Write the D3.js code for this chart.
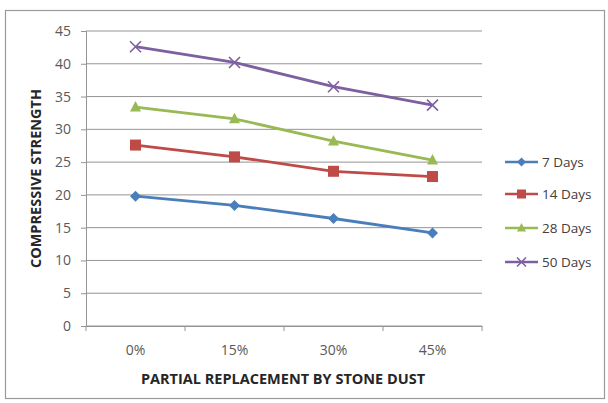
<!DOCTYPE html>
<html><head><meta charset="utf-8">
<script src="https://cdn.jsdelivr.net/npm/d3@7"></script>
<style>body{margin:0;background:#fff}svg{display:block}</style>
</head><body>
<svg id="c" width="608" height="403"></svg>
<script>
const categories = ["0%", "15%", "30%", "45%"];
const seriesNames = ["7 Days", "14 Days", "28 Days", "50 Days"];
const days7  = [19.8, 18.4, 16.4, 14.2];
const days14 = [27.6, 25.8, 23.6, 22.8];
const days28 = [33.4, 31.6, 28.2, 25.3];
const days50 = [42.6, 40.2, 36.5, 33.7];
const yTicks = [0, 5, 10, 15, 20, 25, 30, 35, 40, 45];

const colors = ["#4A7EBB", "#BE4B48", "#98B954", "#7D60A0"];
const markers = ["diamond", "square", "triangle", "x"];
const data = [days7, days14, days28, days50];

const svg = d3.select("#c");
const font = "'Liberation Sans Narrow', 'Open Sans', sans-serif";

svg.append("rect").attr("x", 5.5).attr("y", 10.5).attr("width", 599).attr("height", 388)
  .attr("fill", "#fff").attr("stroke", "#9a9a9a").attr("stroke-width", 1.2);

const L = 86, R = 482, T = 31, B = 326;
const x = d3.scaleBand().domain(categories).range([L, R]);
const y = d3.scaleLinear().domain([0, 45]).range([B, T]);

const g = svg.append("g");
// gridlines
g.selectAll(".grid").data(yTicks).join("line")
  .attr("x1", L).attr("x2", R).attr("y1", d => y(d)).attr("y2", d => y(d))
  .attr("stroke", "#949494").attr("stroke-width", 1);

// y axis
const yAxis = g.append("g").attr("transform", `translate(${L},0)`)
  .call(d3.axisLeft(y).tickValues(yTicks).tickSize(5).tickPadding(10));
yAxis.select(".domain").attr("stroke", "#949494");
yAxis.selectAll(".tick line").attr("stroke", "#949494");
yAxis.selectAll("text").attr("fill", "#595959").style("font-family", font).style("font-size", "14px");

// x axis
const xAxis = g.append("g").attr("transform", `translate(0,${B})`)
  .call(d3.axisBottom(x).tickSize(0).tickPadding(19));
xAxis.select(".domain").attr("stroke", "#949494");
xAxis.selectAll("text").attr("fill", "#595959").style("font-family", font).style("font-size", "14px");
g.selectAll(".xt").data(categories.map((c, i) => i).concat([categories.length])).join("line")
  .attr("x1", i => L + i * x.bandwidth()).attr("x2", i => L + i * x.bandwidth())
  .attr("y1", B).attr("y2", B + 5).attr("stroke", "#949494");

// markers
function drawMarker(sel, type, color, s) {
  if (type === "diamond") {
    sel.append("path").attr("d", `M0,${-s}L${s},0L0,${s}L${-s},0Z`).attr("fill", color);
  } else if (type === "square") {
    sel.append("rect").attr("x", -s).attr("y", -s).attr("width", 2 * s).attr("height", 2 * s).attr("fill", color);
  } else if (type === "triangle") {
    sel.append("path").attr("d", `M0,${-s * 1.1}L${s},${s * 0.8}L${-s},${s * 0.8}Z`).attr("fill", color);
  } else {
    sel.append("path").attr("d", `M${-s},${-s}L${s},${s}M${-s},${s}L${s},${-s}`).attr("stroke", color).attr("stroke-width", 1.6).attr("fill", "none");
  }
}

const line = d3.line().x((d, i) => x(categories[i]) + x.bandwidth() / 2).y(d => y(d));
data.forEach((vals, si) => {
  g.append("path").datum(vals).attr("d", line).attr("fill", "none")
    .attr("stroke", colors[si]).attr("stroke-width", 2.8);
  vals.forEach((v, i) => {
    const m = g.append("g").attr("transform", `translate(${x(categories[i]) + x.bandwidth() / 2},${y(v)})`);
    drawMarker(m, markers[si], colors[si], si === 3 ? 5.5 : 5.5);
  });
});

// legend
const legY = [162, 194, 228, 262];
seriesNames.forEach((n, si) => {
  const lg = svg.append("g").attr("transform", `translate(0,${legY[si]})`);
  lg.append("line").attr("x1", 505).attr("x2", 538).attr("y1", 0).attr("y2", 0)
    .attr("stroke", colors[si]).attr("stroke-width", 2.6);
  const m = lg.append("g").attr("transform", "translate(521.5,0)");
  drawMarker(m, markers[si], colors[si], 4.5);
  lg.append("text").attr("x", 542).attr("y", 0).attr("dy", "0.35em").text(n)
    .attr("fill", "#404040").style("font-family", font).style("font-size", "13.5px");
});

// axis titles
svg.append("text").attr("transform", `translate(41,${(T + B) / 2}) rotate(-90)`)
  .attr("text-anchor", "middle").text("COMPRESSIVE STRENGTH")
  .attr("fill", "#262626").style("font-family", font).style("font-weight", "bold").style("font-size", "14.5px");
svg.append("text").attr("x", 283).attr("y", 384)
  .attr("text-anchor", "middle").text("PARTIAL REPLACEMENT BY STONE DUST")
  .attr("fill", "#262626").style("font-family", font).style("font-weight", "bold").style("font-size", "14.5px");
</script>
</body></html>
